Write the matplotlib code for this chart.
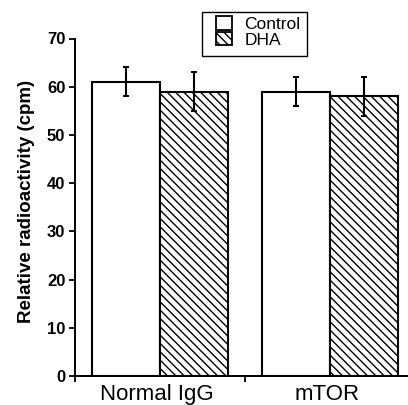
import matplotlib
matplotlib.use("Agg")
import matplotlib.pyplot as plt
from matplotlib.patches import Rectangle
import matplotlib.transforms as mtransforms
import numpy as np

categories = ["Normal IgG", "mTOR"]
control_vals = [61, 59]
control_err = [3, 3]
dha_vals = [59, 58]
dha_err = [4, 4]
yticks = [0, 10, 20, 30, 40, 50, 60, 70]

plt.rcParams['font.family'] = ['Liberation Sans', 'DejaVu Sans']
plt.rcParams['hatch.linewidth'] = 1.0

fig = plt.figure(figsize=(4.08, 4.05), dpi=100)
ax = fig.add_axes([75/408, 29/405, 340/408, 337.5/405])

x = np.arange(len(categories))
w = 0.4
ekw = dict(ecolor='black', elinewidth=1.5, capsize=2.3, capthick=1.5)
ax.bar(x - w/2, control_vals, w, color='white', edgecolor='black', linewidth=1.5,
       yerr=control_err, error_kw=ekw, label='Control', zorder=2)
ax.bar(x + w/2, dha_vals, w, color='white', edgecolor='black', linewidth=1.5, hatch='\\\\\\\\',
       yerr=dha_err, error_kw=ekw, label='DHA', zorder=2)

ax.set_xlim(-0.5, 1.5)
ax.set_ylim(0, 70)
ax.set_yticks(yticks)
ax.set_yticklabels([str(t) for t in yticks], fontsize=12, fontweight='bold')
ax.set_xticks(x)
ax.set_xticklabels(categories, fontsize=16)
ax.tick_params(axis='x', length=0, pad=6)
ax.set_xticks([-0.5, 0.5], minor=True)
ax.tick_params(axis='x', which='minor', length=4, width=1.3, direction='out')
ax.tick_params(axis='y', length=4.5, width=1.3, direction='out', pad=2.5)
shift = mtransforms.ScaledTranslation(-3/100, 0, fig.dpi_scale_trans)
for lab in ax.get_xticklabels():
    lab.set_transform(lab.get_transform() + shift)

for s in ['top', 'right']:
    ax.spines[s].set_visible(False)
for s in ['left', 'bottom']:
    ax.spines[s].set_linewidth(1.4)

ax.set_ylabel('Relative radioactivity (cpm)', fontsize=13.5, fontweight='bold')
ax.yaxis.set_label_coords(-0.118, 0.518)

leg = fig.legend(loc='upper left', bbox_to_anchor=(213/408, 1 - 13/405), fontsize=12.5,
                 frameon=False, handlelength=0.9, handleheight=0.8, handletextpad=0.7,
                 borderpad=0.2, labelspacing=0.0, borderaxespad=0)
for h in leg.legend_handles:
    h.set_linewidth(1.3)

fig.add_artist(Rectangle((202/408, 1 - 56/405), 105/408, 44/405, transform=fig.transFigure,
                         facecolor='none', edgecolor='black', linewidth=1.0))

fig.savefig('out.png', dpi=100)
